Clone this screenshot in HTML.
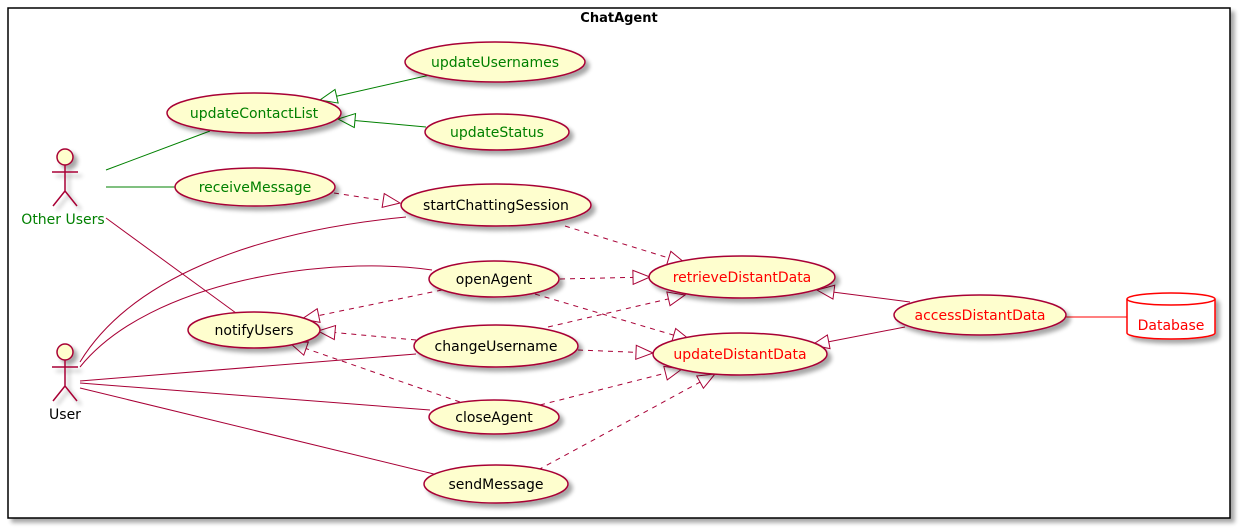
<!DOCTYPE html>
<html><head><meta charset="utf-8"><style>body{margin:0;background:#fff}svg{display:block}text{font-family:"DejaVu Sans","Liberation Sans",sans-serif;font-size:14px}</style></head><body>
<svg width="1241" height="529" viewBox="0 0 1241 529" xmlns="http://www.w3.org/2000/svg">
<defs>
<marker id="ar" markerWidth="20" markerHeight="16" refX="18" refY="8" orient="auto" markerUnits="userSpaceOnUse"><path d="M1,1 L18,8 L1,15 Z" fill="#fff" stroke="#A80036"/></marker>
<marker id="ag" markerWidth="20" markerHeight="16" refX="18" refY="8" orient="auto" markerUnits="userSpaceOnUse"><path d="M1,1 L18,8 L1,15 Z" fill="#fff" stroke="#008000"/></marker>
<filter id="sh" x="-20%" y="-20%" width="150%" height="160%"><feGaussianBlur in="SourceAlpha" stdDeviation="2"/><feOffset dx="4" dy="4"/><feComponentTransfer><feFuncA type="linear" slope="0.35"/></feComponentTransfer><feMerge><feMergeNode/><feMergeNode in="SourceGraphic"/></feMerge></filter>
</defs>
<rect x="8" y="8" width="1222" height="510" fill="#fff" stroke="#000" stroke-width="1.5" filter="url(#sh)"/>
<text x="619" y="22" text-anchor="middle" font-weight="bold" style="font-size:13px">ChatAgent</text>
<g fill="none" stroke-width="1">
<line x1="430" y1="75" x2="320" y2="100" stroke="#008000" marker-end="url(#ag)"/>
<line x1="426" y1="127" x2="338" y2="119" stroke="#008000" marker-end="url(#ag)"/>
<line x1="106" y1="170" x2="210" y2="131" stroke="#008000"/>
<line x1="106" y1="187" x2="176" y2="187" stroke="#008000"/>
<g stroke="#A80036">
<line x1="106" y1="218" x2="236" y2="313"/>
<path d="M80,362 C130,280 250,232 406,217"/>
<path d="M80,367 C150,280 330,255 432,270"/>
<line x1="80" y1="381" x2="416" y2="354"/>
<line x1="80" y1="383" x2="430" y2="410"/>
<line x1="80" y1="388" x2="442" y2="476"/>
<line x1="910" y1="302" x2="817" y2="290" marker-end="url(#ar)"/>
<line x1="905" y1="327" x2="812" y2="345" marker-end="url(#ar)"/>
</g>
<g stroke="#A80036" stroke-dasharray="5,5">
<line x1="334" y1="193" x2="400" y2="203" marker-end="url(#ar)"/>
<line x1="565" y1="226" x2="685" y2="263" marker-end="url(#ar)"/>
<line x1="560" y1="279" x2="650" y2="277" marker-end="url(#ar)"/>
<line x1="535" y1="294" x2="690" y2="340" marker-end="url(#ar)"/>
<line x1="548" y1="327" x2="685" y2="295" marker-end="url(#ar)"/>
<line x1="578" y1="350" x2="653" y2="353" marker-end="url(#ar)"/>
<line x1="540" y1="405" x2="682" y2="369" marker-end="url(#ar)"/>
<line x1="538" y1="470" x2="715" y2="374" marker-end="url(#ar)"/>
<line x1="442" y1="290" x2="302" y2="319" marker-end="url(#ar)"/>
<line x1="416" y1="340" x2="318" y2="331" marker-end="url(#ar)"/>
<line x1="460" y1="402" x2="290" y2="343" marker-end="url(#ar)"/>
</g>
<line x1="1066" y1="317" x2="1127" y2="317" stroke="#FF0000"/>
</g>
<g fill="#FEFECE" stroke="#A80036" stroke-width="1.5" filter="url(#sh)">
<ellipse cx="495" cy="62" rx="90" ry="20"/>
<ellipse cx="254" cy="113" rx="87" ry="20"/>
<ellipse cx="497" cy="132" rx="72" ry="18"/>
<ellipse cx="255" cy="187" rx="80" ry="19"/>
<ellipse cx="496" cy="205" rx="95" ry="21"/>
<ellipse cx="494" cy="279" rx="65" ry="18"/>
<ellipse cx="742" cy="277" rx="93" ry="21"/>
<ellipse cx="254" cy="330" rx="66" ry="18"/>
<ellipse cx="496" cy="346" rx="82" ry="21"/>
<ellipse cx="740" cy="354" rx="87" ry="21"/>
<ellipse cx="980" cy="315" rx="86" ry="20"/>
<ellipse cx="494" cy="417" rx="65" ry="17"/>
<ellipse cx="496" cy="484" rx="72" ry="19"/>
</g>
<g filter="url(#sh)" fill="#fff" stroke="#FF0000" stroke-width="1.5">
<path d="M1127,299 L1127,333 A44,6 0 0 0 1215,333 L1215,299 A44,6 0 0 0 1127,299 Z"/>
<path d="M1127,299 A44,6 0 0 0 1215,299" fill="none"/>
</g>
<g fill="#FEFECE" stroke="#A80036" stroke-width="1.5">
<g filter="url(#sh)"><circle cx="65" cy="157" r="8"/><path d="M65,165 V191 M52,172 H78 M53,206 L65,191 L77,206" fill="none"/></g>
<g filter="url(#sh)"><circle cx="65" cy="352" r="8"/><path d="M65,360 V386 M52,367 H78 M53,401 L65,386 L77,401" fill="none"/></g>
</g>
<g text-anchor="middle">
<text x="63" y="224" fill="#008000">Other Users</text>
<text x="65" y="419" fill="#000">User</text>
<text x="495" y="67" fill="#008000">updateUsernames</text>
<text x="254" y="118" fill="#008000">updateContactList</text>
<text x="497" y="137" fill="#008000">updateStatus</text>
<text x="255" y="192" fill="#008000">receiveMessage</text>
<text x="496" y="210">startChattingSession</text>
<text x="494" y="284">openAgent</text>
<text x="742" y="282" fill="#FF0000">retrieveDistantData</text>
<text x="254" y="335">notifyUsers</text>
<text x="496" y="351">changeUsername</text>
<text x="740" y="359" fill="#FF0000">updateDistantData</text>
<text x="980" y="320" fill="#FF0000">accessDistantData</text>
<text x="494" y="422">closeAgent</text>
<text x="496" y="489">sendMessage</text>
<text x="1171" y="330" fill="#FF0000">Database</text>
</g>
</svg>
</body></html>
